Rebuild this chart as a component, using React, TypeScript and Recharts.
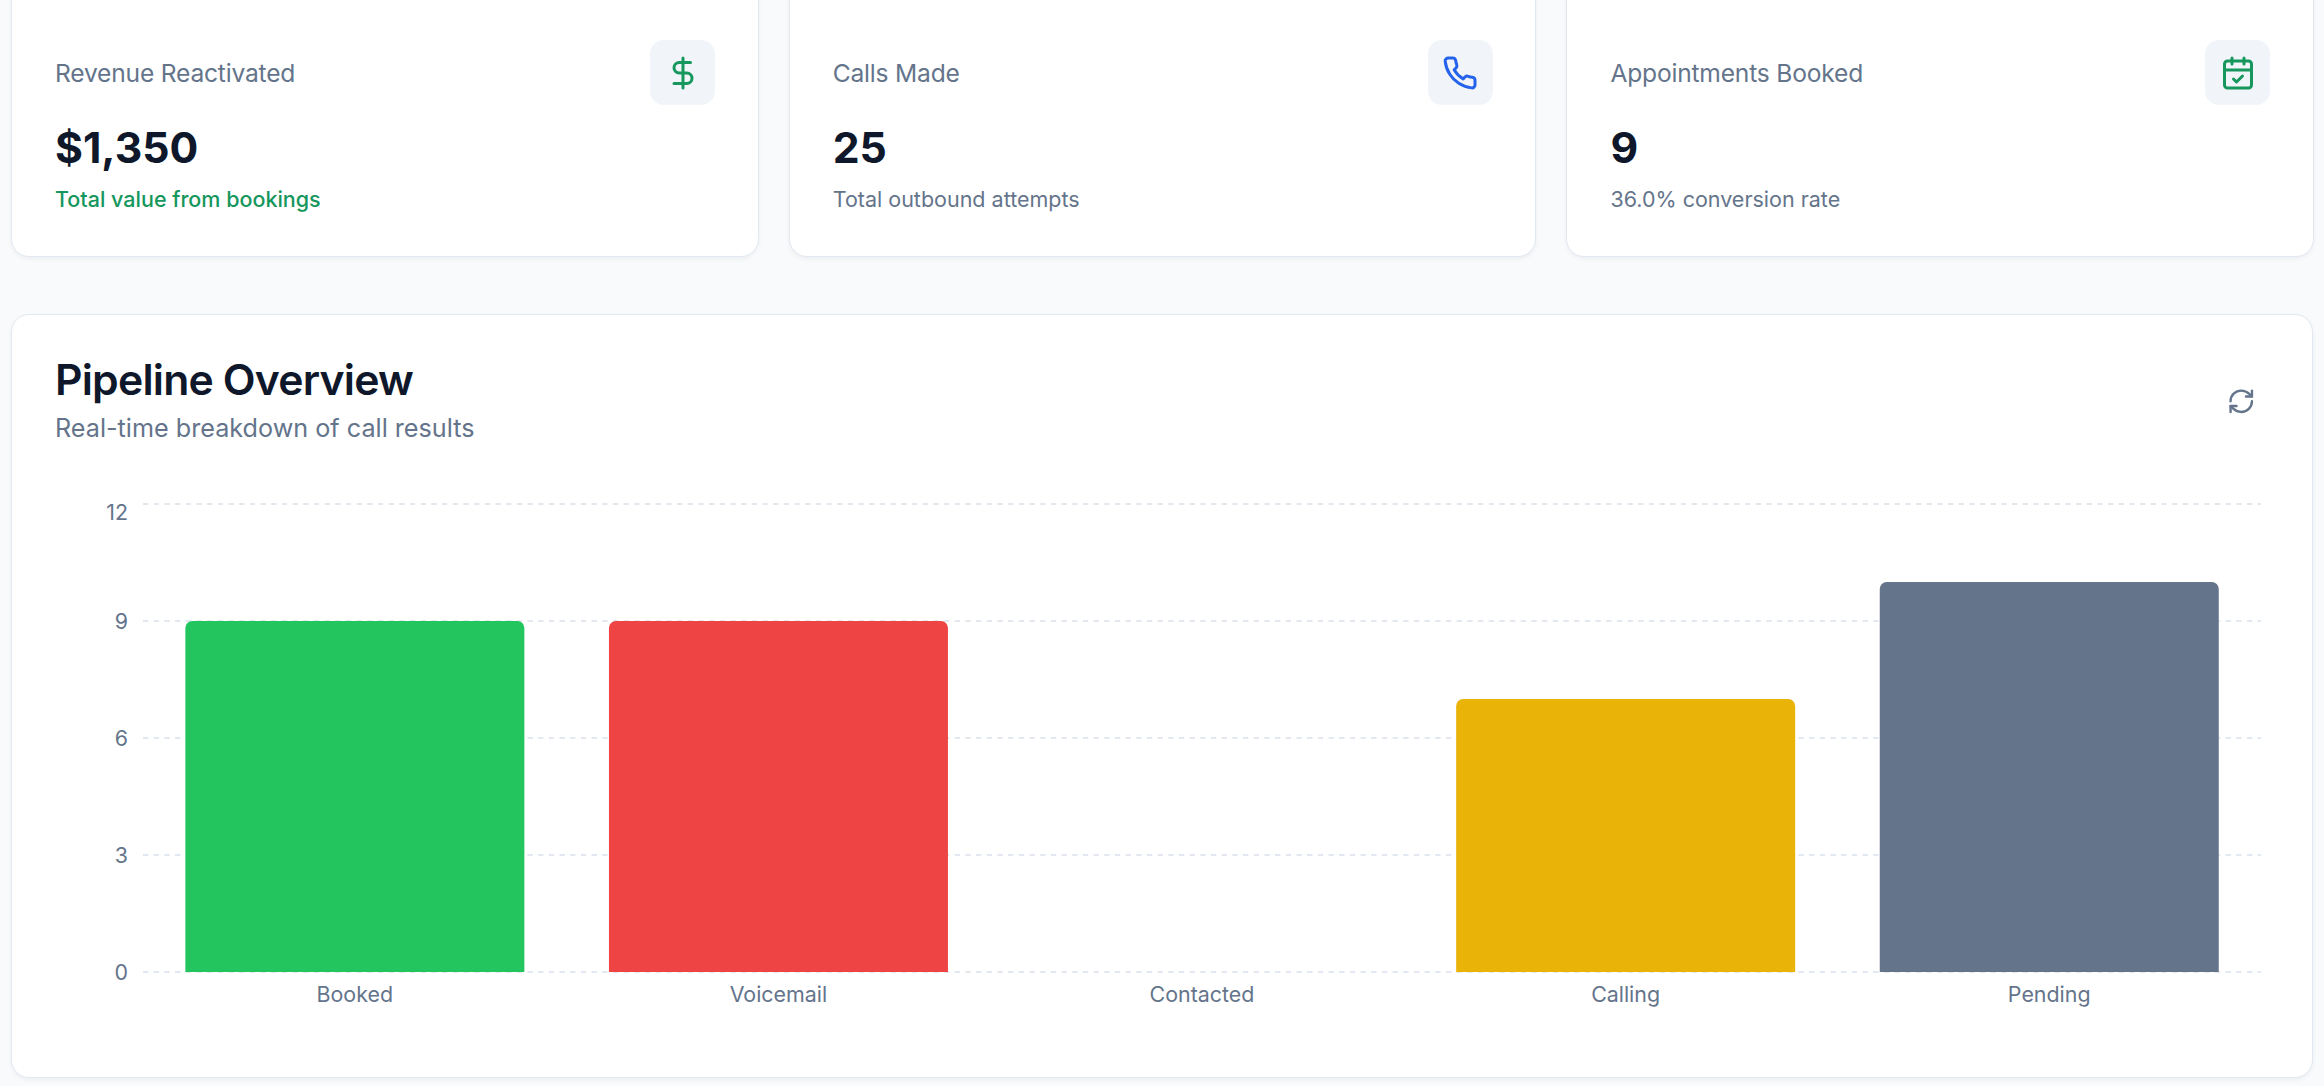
import { BarChart, Bar, CartesianGrid, XAxis, YAxis } from 'recharts';

const categories = ['Booked', 'Voicemail', 'Contacted', 'Calling', 'Pending'];
const counts = [9, 9, 0, 7, 10];
const barColors = ['#22c55e', '#ef4444', '#8b5cf6', '#eab308', '#64748b'];
const yTicks = [0, 3, 6, 9, 12];

const cardTitles = ['Revenue Reactivated', 'Calls Made', 'Appointments Booked'];
const cardValues = ['$1,350', '25', '9'];
const cardNotes = ['Total value from bookings', 'Total outbound attempts', '36.0% conversion rate'];

const SLATE = '#64748b';
const INK = '#0f172a';
const GREEN = '#16975d';
const BLUE = '#2563eb';
const FONT = 'Inter, sans-serif';

const chartData = categories.map((name, i) => ({
  name,
  value: counts[i],
  fill: barColors[i],
}));

function Icon({ size, color, children }: { size: number; color: string; children: any }) {
  return (
    <svg width={size} height={size} viewBox="0 0 24 24" fill="none" stroke={color} strokeWidth={2} strokeLinecap="round" strokeLinejoin="round" style={{ display: 'block' }}>
      {children}
    </svg>
  );
}

const icons = [
  <Icon size={36} color={GREEN}>
    <line x1="12" x2="12" y1="2" y2="22" />
    <path d="M17 5H9.5a3.5 3.5 0 0 0 0 7h5a3.5 3.5 0 0 1 0 7H6" />
  </Icon>,
  <Icon size={36} color={BLUE}>
    <path d="M22 16.92v3a2 2 0 0 1-2.18 2 19.79 19.79 0 0 1-8.63-3.07 19.5 19.5 0 0 1-6-6 19.79 19.79 0 0 1-3.07-8.67A2 2 0 0 1 4.11 2h3a2 2 0 0 1 2 1.72 12.84 12.84 0 0 0 .7 2.81 2 2 0 0 1-.45 2.11L8.09 9.91a16 16 0 0 0 6 6l1.27-1.27a2 2 0 0 1 2.11-.45 12.84 12.84 0 0 0 2.81.7A2 2 0 0 1 22 16.92z" />
  </Icon>,
  <Icon size={36} color={GREEN}>
    <rect x="3" y="4" width="18" height="18" rx="2" />
    <path d="M16 2v4" />
    <path d="M8 2v4" />
    <path d="M3 10h18" />
    <path d="m9 16 2 2 4-4" />
  </Icon>,
];

// one line of text, placed by its vertical centre
function Line({ x, y, size, color, weight, spacing, children }: any) {
  return (
    <div
      style={{
        position: 'absolute',
        left: x,
        top: y - 40,
        height: 80,
        lineHeight: '80px',
        fontSize: size,
        color,
        fontWeight: weight ?? 400,
        letterSpacing: spacing ?? 0,
        whiteSpace: 'nowrap',
      }}
    >
      {children}
    </div>
  );
}

const cardStyle: any = {
  position: 'absolute',
  background: '#ffffff',
  border: '1.5px solid #e2e8f0',
  borderRadius: 18,
  boxShadow: '0 2px 4px rgba(15,23,42,0.05)',
  boxSizing: 'border-box',
};

function YTick({ x, y, payload }: any) {
  // the top label sits inside the plot in the original
  const shift = payload.value === 12 ? 8 : 0;
  return (
    <text x={x} y={y + shift} dy="0.355em" textAnchor="end" fontSize={21.4} fill={SLATE} fontFamily={FONT}>
      {payload.value}
    </text>
  );
}

export default function App() {
  const cardWidth = 747.5;
  const cardStep = 777.7;

  return (
    <div style={{ position: 'absolute', left: 0, top: 0, width: 2324, height: 1086, overflow: 'hidden', background: '#f8fafc', fontFamily: FONT }}>
      {cardTitles.map((title, i) => {
        const left = 11 + i * cardStep;
        return (
          <div key={title}>
            <div style={{ ...cardStyle, left, top: -30, width: cardWidth, height: 286.5 }} />
            <Line x={left + 44} y={72.5} size={24.6} color={SLATE} spacing={-0.2}>{title}</Line>
            <Line x={left + 44} y={148} size={42.7} color={INK} weight={700}>{cardValues[i]}</Line>
            <Line x={left + 44} y={198.5} size={21.5} color={i === 0 ? GREEN : SLATE} weight={i === 0 ? 500 : 400}>{cardNotes[i]}</Line>
            <div style={{ position: 'absolute', left: left + 639, top: 40, width: 65, height: 65, borderRadius: 14, background: '#f1f5f9', display: 'flex', alignItems: 'center', justifyContent: 'center' }}>
              {icons[i]}
            </div>
          </div>
        );
      })}

      <div style={{ ...cardStyle, left: 11, top: 314, width: 2302, height: 764 }} />
      <Line x={55} y={380} size={42.7} color={INK} weight={600} spacing={-0.8}>Pipeline Overview</Line>
      <Line x={55} y={427.5} size={25.2} color={SLATE}>Real-time breakdown of call results</Line>
      <div style={{ position: 'absolute', left: 2227, top: 387 }}>
        <Icon size={28.5} color={SLATE}>
          <path d="M3 12a9 9 0 0 1 9-9 9.75 9.75 0 0 1 6.74 2.74L21 8" />
          <path d="M21 3v5h-5" />
          <path d="M21 12a9 9 0 0 1-9 9 9.75 9.75 0 0 1-6.74-2.74L3 16" />
          <path d="M8 16H3v5" />
        </Icon>
      </div>

      <div style={{ position: 'absolute', left: 0, top: 480 }}>
        <BarChart
          width={2300}
          height={560}
          data={chartData}
          margin={{ top: 24, right: 39, bottom: 0, left: 0 }}
          barCategoryGap="10%"
        >
          <CartesianGrid vertical={false} stroke="#e2e8f0" strokeWidth={1.8} strokeDasharray="5.34 5.34" />
          <XAxis
            dataKey="name"
            axisLine={false}
            tickLine={false}
            interval={0}
            tickMargin={9}
            height={68}
            tick={{ fontSize: 21.4, fill: SLATE, fontFamily: FONT }}
          />
          <YAxis
            width={143}
            domain={[0, 12]}
            ticks={yTicks}
            axisLine={false}
            tickLine={false}
            tickMargin={9}
            tick={<YTick />}
          />
          <Bar dataKey="value" radius={[7, 7, 0, 0]} isAnimationActive={false} />
        </BarChart>
      </div>
    </div>
  );
}
